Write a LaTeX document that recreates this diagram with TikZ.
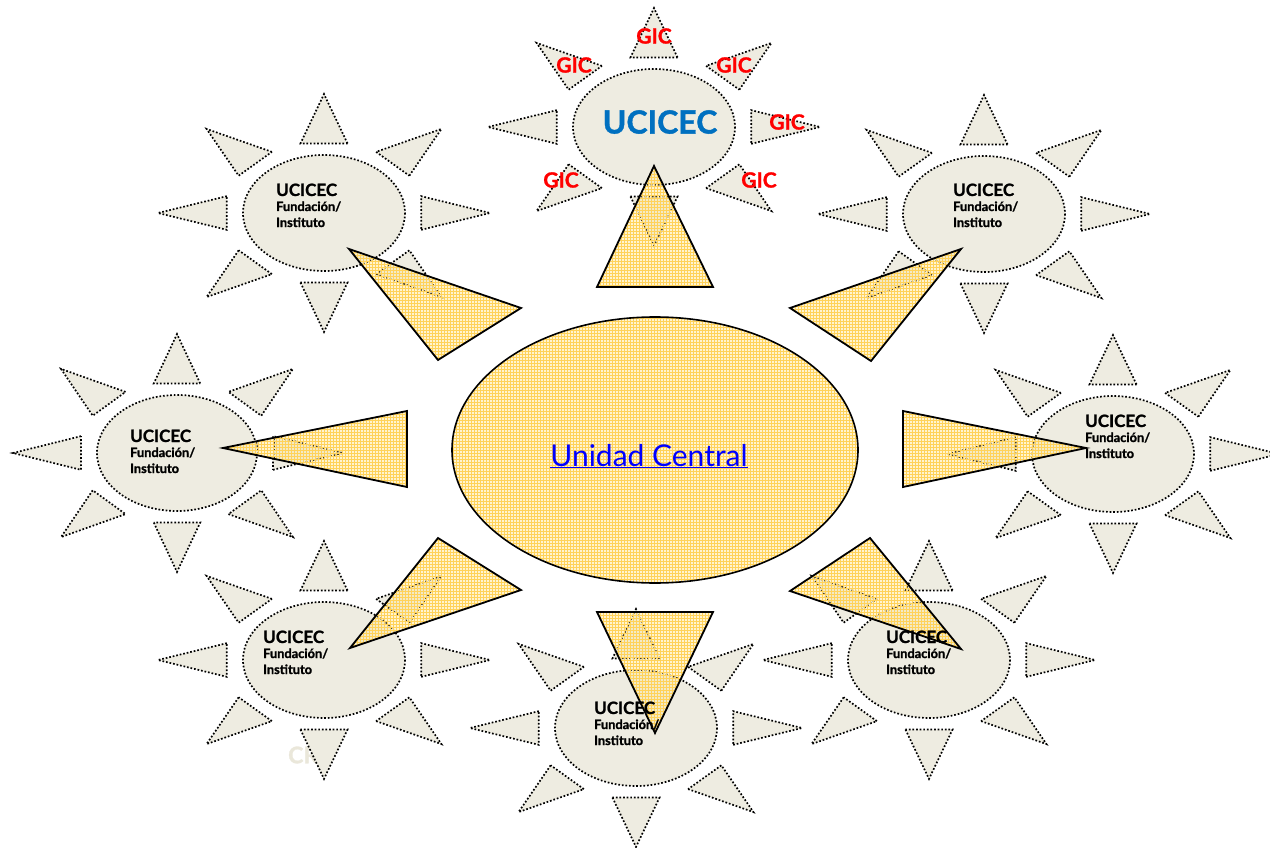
\documentclass[tikz,border=0pt]{standalone}
\usepackage{fontspec}
\setmainfont{Lato}
\newfontfamily\heavyfont{Lato}[BoldFeatures={FakeBold=1.2}]
\definecolor{sunfill}{RGB}{238,236,225}
\definecolor{ybase}{RGB}{255,244,208}
\definecolor{ygrid}{RGB}{255,210,90}
\definecolor{sunmix}{RGB}{243,234,198}
\definecolor{dotmix}{RGB}{70,62,40}
\definecolor{ucblue}{RGB}{0,112,192}
\definecolor{gicred}{RGB}{255,0,0}
\definecolor{linkblue}{RGB}{0,0,255}
\definecolor{faint}{RGB}{234,231,218}
\tikzset{
  sunpart/.style={fill=sunfill, draw=black, line width=1.7pt, dash pattern=on 1.7pt off 1.9pt},
  sununder/.style={fill=sunmix, draw=dotmix, line width=1.5pt, dash pattern=on 1.7pt off 1.9pt},
  yborder/.style={draw=black, line width=1.8pt, line join=miter},
  gridlines/.style={draw=ygrid, line width=0.8pt, step=3pt},
  uctitle/.style={font={\heavyfont\fontsize{17}{20}\selectfont\bfseries}, text=black, anchor=base west, inner sep=0pt},
  ucsub/.style={font={\heavyfont\fontsize{12.8}{15}\selectfont\bfseries}, text=black, anchor=base west, inner sep=0pt},
  giclabel/.style={font={\heavyfont\fontsize{21}{24}\selectfont\bfseries}, text=gicred, inner sep=0pt},
}
% sun: [style] cx cy rx ry
\newcommand\drawsun[5][sunpart]{%
  \begin{scope}[shift={(#2,#3)}, xscale=#4, yscale=#5]
    \path[#1] (0,0) ellipse [x radius=1, y radius=1];
    \foreach \a in {0,45,...,315}{
      \path[#1] (\a+13.6:1.2345) -- (\a:2.05) -- (\a-13.6:1.2345) -- cycle;
    }
  \end{scope}}
% yellow triangle over a sun: v1 v2 v3 (coordinates), sun cx cy
\newcommand\ytri[5]{%
  \begin{scope}
    \clip #1 -- #2 -- #3 -- cycle;
    \fill[ybase] #1 -- #2 -- #3 -- cycle;
    \drawsun[sununder]{#4}{#5}{81}{58}
    \path[gridlines] (0,0) grid (1270,848);
  \end{scope}
  \path[yborder] #1 -- #2 -- #3 -- cycle;}
\newcommand\suntext[3]{%
  \node[uctitle] (#1a) at (#2,#3+6) {UCICEC};
  \node[ucsub] (#1b) at (#2,#3+21) {Fundación/};
  \node[ucsub] (#1c) at (#2,#3+37) {Instituto};}
\begin{document}
\begin{tikzpicture}[x=1pt,y=-1pt]
  \fill[white] (0,0) rectangle (1270,848);
  \useasboundingbox (0,0) rectangle (1270,848);
  % faint hidden text
  \node[font={\heavyfont\fontsize{23}{27}\selectfont\bfseries}, text=faint, anchor=west, inner sep=0pt] (cr) at (288,755) {CR};
  % suns
  \drawsun{654}{127}{81}{58}
  \drawsun{324}{213}{81}{58}
  \drawsun{984}{214}{81}{58}
  \drawsun{177}{453}{80}{58}
  \drawsun{1113}{454}{81}{58}
  \drawsun{324}{660}{81}{58}
  \drawsun{636}{728}{81}{58}
  \drawsun{929}{660}{81}{58}
  % central ellipse
  \begin{scope}
    \clip (655,450) ellipse [x radius=203, y radius=133];
    \fill[ybase] (440,300) rectangle (870,600);
    \path[gridlines] (440,300) grid (870,600);
  \end{scope}
  \draw[black, line width=1.6pt] (655,450) ellipse [x radius=203, y radius=133];
  % yellow triangles
  \ytri{(654,166)}{(597,287)}{(713,287)}{654}{127}
  \ytri{(349,249)}{(521,308)}{(438,360)}{324}{213}
  \ytri{(961,249)}{(790,308)}{(871,361)}{984}{214}
  \ytri{(223,448)}{(407,411)}{(407,487)}{177}{453}
  \ytri{(1086,448)}{(903,411)}{(903,487)}{1113}{454}
  \ytri{(350,648)}{(438,538)}{(521,590)}{324}{660}
  \ytri{(961,649)}{(870,538)}{(790,591)}{929}{660}
  \ytri{(655,733)}{(597,612)}{(713,612)}{636}{728}
  % texts
  \node[font={\heavyfont\fontsize{32}{36}\selectfont\bfseries}, text=ucblue, inner sep=0pt] (main) at (660,122) {UCICEC};
  \node[giclabel] (g1) at (654,36) {GIC};
  \node[giclabel] (g2) at (574,65) {GIC};
  \node[giclabel] (g3) at (734,65) {GIC};
  \node[giclabel] (g4) at (787,122) {GIC};
  \node[giclabel] (g5) at (561,180) {GIC};
  \node[giclabel] (g6) at (759,180) {GIC};
  \suntext{tl}{276}{190}
  \suntext{tr}{953}{190}
  \suntext{l}{130}{436}
  \suntext{r}{1085}{421}
  \suntext{bl}{263}{637}
  \suntext{b}{594}{708}
  \suntext{br}{886}{637}
  \node[font=\fontsize{30}{34}\selectfont, text=linkblue, anchor=base, inner sep=0pt] (uc) at (649,466) {\underline{Unidad Central}};
\end{tikzpicture}
\end{document}
